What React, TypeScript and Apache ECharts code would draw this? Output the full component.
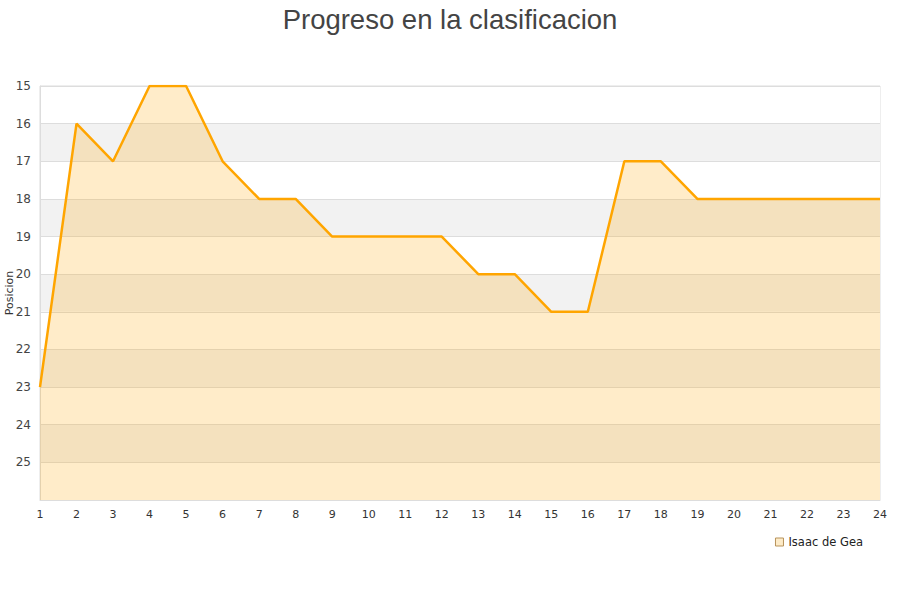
import React, { useEffect, useRef } from "react";
import * as echarts from "echarts";

const jornadas = ["1","2","3","4","5","6","7","8","9","10","11","12","13","14","15","16","17","18","19","20","21","22","23","24"];
const posiciones = [23, 16, 17, 15, 15, 17, 18, 18, 19, 19, 19, 19, 20, 20, 21, 21, 17, 17, 18, 18, 18, 18, 18, 18];
const seriesName = "Isaac de Gea";
const titleText = "Progreso en la clasificacion";

export default function App() {
  const ref = useRef<HTMLDivElement>(null);
  useEffect(() => {
    const chart = echarts.init(ref.current!, null, { renderer: "svg" });
    chart.setOption({
      animation: false,
      textStyle: { fontFamily: "DejaVu Sans, Verdana, sans-serif" },
      title: {
        text: titleText,
        left: "center",
        top: 0,
        textStyle: { fontFamily: "Liberation Sans, Arial, sans-serif", fontSize: 27.5, fontWeight: "normal", color: "#444" },
      },
      legend: {
        data: [seriesName],
        right: 32,
        top: 531,
        icon: "rect",
        itemWidth: 8,
        itemHeight: 8,
        itemGap: 6,
        itemStyle: { color: "#fdebc8", borderColor: "#b8935a", borderWidth: 1 },
        textStyle: { fontSize: 11.5, color: "#222" },
      },
      grid: { left: 40, right: 20, top: 86, bottom: 100, show: true, borderColor: "#ddd", borderWidth: 1, containLabel: false, outerBoundsMode: "none" },
      xAxis: {
        type: "category",
        data: jornadas,
        boundaryGap: false,
        axisLine: { lineStyle: { color: "#ddd" } },
        axisTick: { show: false },
        axisLabel: { color: "#333", fontSize: 11, margin: 9, interval: 0 },
        splitLine: { show: false },
      },
      yAxis: {
        type: "value",
        inverse: true,
        min: 15,
        max: 26,
        interval: 1,
        name: "Posicion",
        nameLocation: "middle",
        nameGap: 25,
        nameMoveOverlap: false,
        nameTextStyle: { fontSize: 11, color: "#333" },
        axisLine: { show: true, lineStyle: { color: "#ddd" } },
        axisTick: { show: false },
        axisLabel: {
          color: "#444",
          fontSize: 12,
          margin: 9,
          formatter: (v: number) => (v === 26 ? "" : String(v)),
        },
        splitLine: { show: true, lineStyle: { color: "#ddd" } },
        splitArea: { show: true, areaStyle: { color: ["#ffffff", "#f2f2f2"] } },
      },
      series: [
        {
          name: seriesName,
          type: "line",
          data: posiciones,
          symbol: "none",
          lineStyle: { color: "#FFA500", width: 2.5 },
          itemStyle: { color: "#FFA500" },
          areaStyle: { color: "#FFA500", opacity: 0.21, origin: "end" },
        },
      ],
    });
    return () => chart.dispose();
  }, []);
  return <div ref={ref} style={{ width: 900, height: 600, position: "absolute", left: 0, top: 0 }} />;
}
